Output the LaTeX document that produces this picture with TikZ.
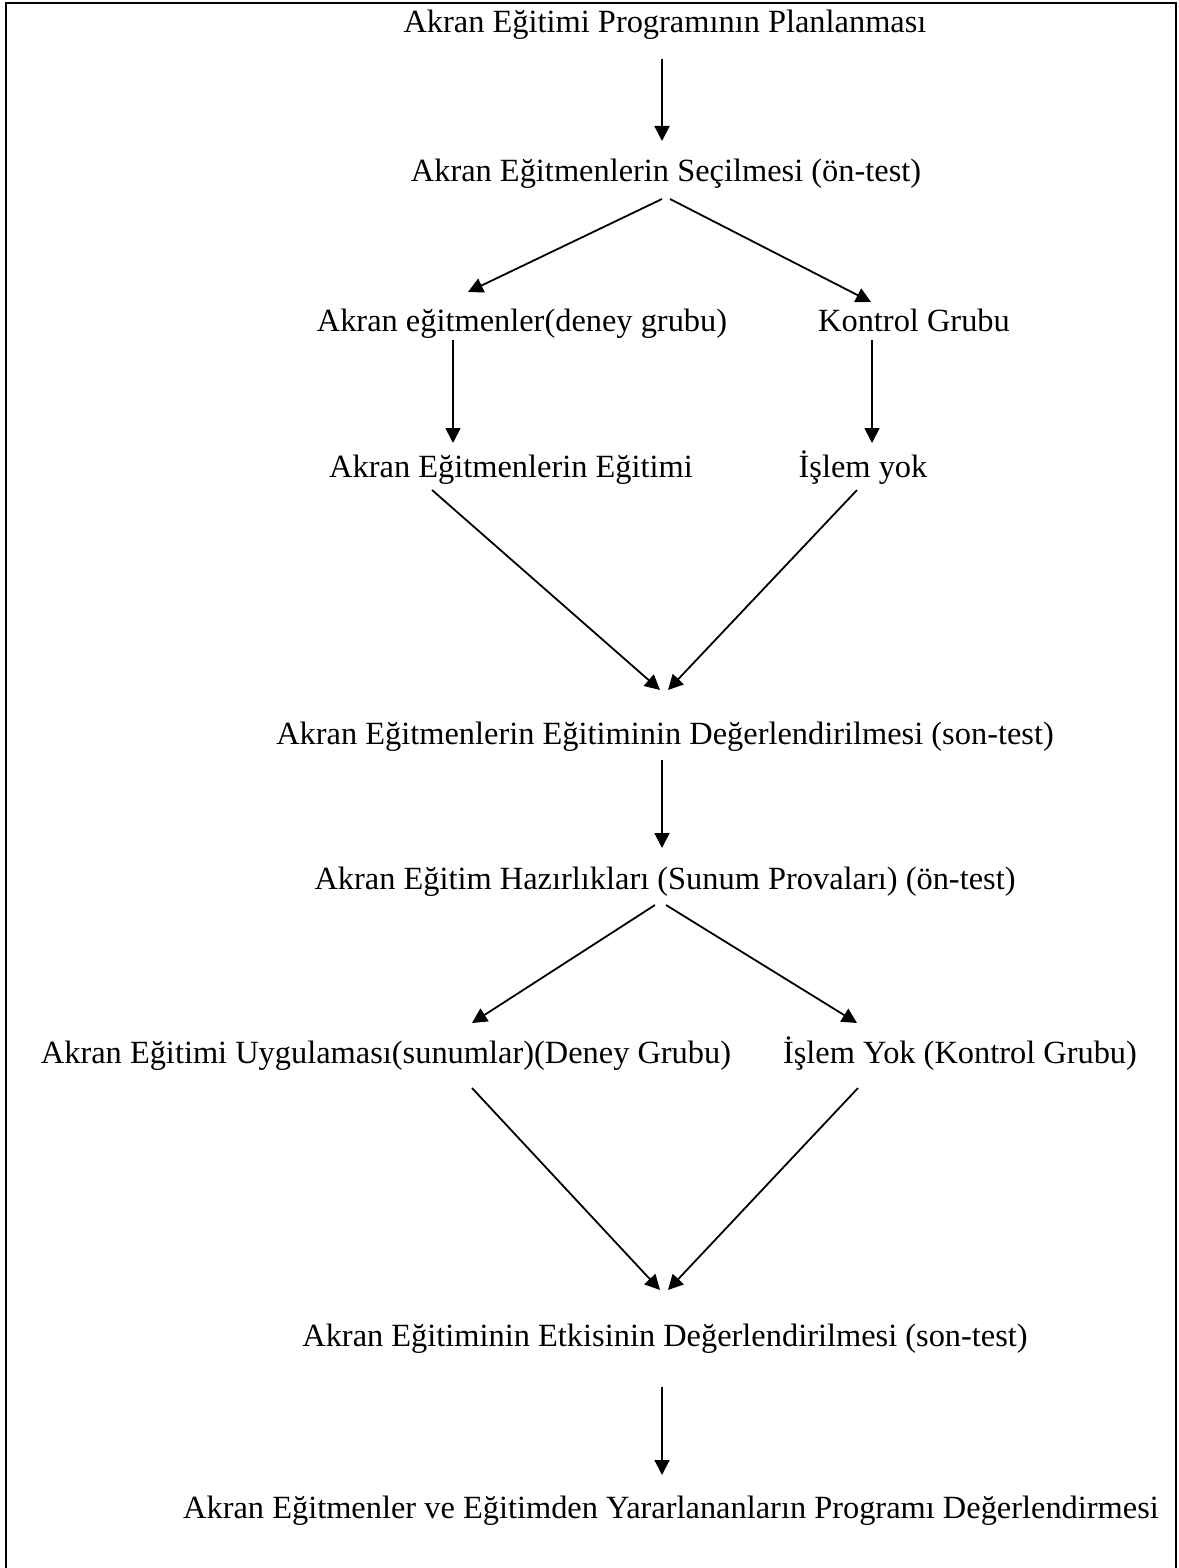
\documentclass[tikz,border=0pt]{standalone}
\usepackage{fontspec}
\setmainfont{Liberation Serif}
\usetikzlibrary{arrows.meta}
\begin{document}
\begin{tikzpicture}[x=0.5pt,y=-0.5pt,
  lbl/.style={anchor=base,inner sep=0pt,font=\fontsize{16.2}{20}\selectfont},
  arr/.style={line width=0.9pt,-{Triangle[length=7.5pt,width=7.5pt]}},
  frame/.style={line width=1.1pt}]
\useasboundingbox (0,0) rectangle (1178,1568);
\draw[frame] (6,1568) -- (6,3) -- (1176,3) -- (1176,1568);
\node[lbl] (n1) at (665,33) {Akran Eğitimi Programının Planlanması};
\node[lbl] (n2) at (666,181) {Akran Eğitmenlerin Seçilmesi (ön-test)};
\node[lbl] (n3) at (522,331) {Akran eğitmenler(deney grubu)};
\node[lbl] (n4) at (914,331) {Kontrol Grubu};
\node[lbl] (n5) at (511,477) {Akran Eğitmenlerin Eğitimi};
\node[lbl] (n6) at (863,477) {İşlem yok};
\node[lbl] (n7) at (665,744) {Akran Eğitmenlerin Eğitiminin Değerlendirilmesi (son-test)};
\node[lbl] (n8) at (665,889) {Akran Eğitim Hazırlıkları (Sunum Provaları) (ön-test)};
\node[lbl] (n9) at (386,1063) {Akran Eğitimi Uygulaması(sunumlar)(Deney Grubu)};
\node[lbl] (n10) at (960,1063) {İşlem Yok (Kontrol Grubu)};
\node[lbl] (n11) at (665,1346) {Akran Eğitiminin Etkisinin Değerlendirilmesi (son-test)};
\node[lbl] (n12) at (671,1518) {Akran Eğitmenler ve Eğitimden Yararlananların Programı Değerlendirmesi};
\draw[arr] ([shift={(-3,26)}]n1.base) -- ([shift={(-4,-40)}]n2.base);
\draw[arr] ([shift={(-4,18)}]n2.base) -- ([shift={(-54,-39)}]n3.base);
\draw[arr] ([shift={(4,18)}]n2.base) -- ([shift={(-43,-29)}]n4.base);
\draw[arr] ([shift={(-69,9)}]n3.base) -- ([shift={(-58,-34)}]n5.base);
\draw[arr] ([shift={(-42,9)}]n4.base) -- ([shift={(9,-34)}]n6.base);
\draw[arr] ([shift={(-79,13)}]n5.base) -- ([shift={(-5,-54)}]n7.base);
\draw[arr] ([shift={(-6,13)}]n6.base) -- ([shift={(3,-54)}]n7.base);
\draw[arr] ([shift={(-3,16)}]n7.base) -- ([shift={(-3,-41)}]n8.base);
\draw[arr] ([shift={(-10,16)}]n8.base) -- ([shift={(86,-40)}]n9.base);
\draw[arr] ([shift={(1,16)}]n8.base) -- ([shift={(-103,-40)}]n10.base);
\draw[arr] ([shift={(86,25)}]n9.base) -- ([shift={(-5,-56)}]n11.base);
\draw[arr] ([shift={(-102,25)}]n10.base) -- ([shift={(3,-56)}]n11.base);
\draw[arr] ([shift={(-3,41)}]n11.base) -- ([shift={(-9,-43)}]n12.base);
\end{tikzpicture}
\end{document}
